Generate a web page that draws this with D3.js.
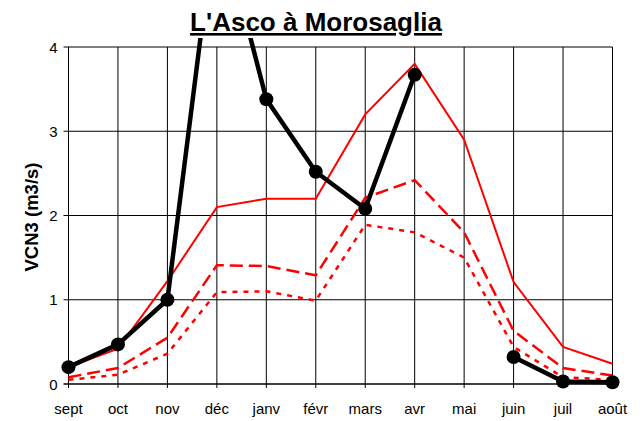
<!DOCTYPE html>
<html>
<head>
<meta charset="utf-8">
<script src="https://cdn.jsdelivr.net/npm/d3@7"></script>
<style>
body { margin: 0; background: #fff; }
text { font-family: "Liberation Sans", Arial, sans-serif; }
</style>
</head>
<body>
<svg width="644" height="421"></svg>
<script>
var months = ['sept','oct','nov','déc','janv','févr','mars','avr','mai','juin','juil','août'];
// observed year (null = no data)
var observed = [0.2, 0.47, 1.0, 5.65, 3.38, 2.52, 2.08, 3.67, null, 0.32, 0.03, 0.02];
var redSolid = [0.2, 0.42, 1.22, 2.1, 2.2, 2.2, 3.2, 3.8, 2.9, 1.21, 0.44, 0.24];
var redDashed = [0.08, 0.19, 0.55, 1.41, 1.4, 1.29, 2.21, 2.42, 1.8, 0.63, 0.19, 0.1];
var redDotted = [0.05, 0.11, 0.36, 1.09, 1.1, 0.99, 1.89, 1.8, 1.5, 0.44, 0.08, 0.05];
var yTicks = [0, 1, 2, 3, 4];

var svg = d3.select('svg');
var pLeft = 68.5, pRight = 612.5, pTop = 47, pBottom = 384;

var x = d3.scalePoint().domain(months).range([pLeft, pRight]);
var y = d3.scaleLinear().domain([0, 4]).range([pBottom, pTop]);

// grid
svg.append('g').selectAll('line').data(months).enter().append('line')
  .attr('x1', d => x(d)).attr('x2', d => x(d))
  .attr('y1', pTop).attr('y2', pBottom + 4)
  .attr('stroke', '#000').attr('stroke-width', 1);
svg.append('g').selectAll('line').data(yTicks).enter().append('line')
  .attr('x1', pLeft - 5).attr('x2', pRight)
  .attr('y1', d => y(d)).attr('y2', d => y(d))
  .attr('stroke', '#000').attr('stroke-width', d => d == 0 ? 1.5 : 1);

// axis labels
svg.append('g').selectAll('text').data(yTicks).enter().append('text')
  .attr('x', pLeft - 11).attr('y', d => y(d) + 5.5)
  .attr('text-anchor', 'end').attr('font-size', 15).text(d => d);
svg.append('g').selectAll('text').data(months).enter().append('text')
  .attr('x', d => x(d)).attr('y', 414)
  .attr('text-anchor', 'middle').attr('font-size', 15).text(d => d);

svg.append('text').attr('transform', 'translate(38,217) rotate(-90)')
  .attr('text-anchor', 'middle').attr('font-size', 18.5).attr('font-weight', 'bold')
  .text('VCN3 (m3/s)');

svg.append('text').attr('x', 316).attr('y', 31)
  .attr('text-anchor', 'middle').attr('font-size', 26).attr('font-weight', 'bold')
  .attr('text-decoration', 'underline').text("L'Asco à Morosaglia");

svg.append('clipPath').attr('id', 'clip').append('rect')
  .attr('x', 0).attr('y', 38).attr('width', 644).attr('height', 360);

var plot = svg.append('g').attr('clip-path', 'url(#clip)');
var line = d3.line().defined(d => d.v != null).x(d => x(d.m)).y(d => y(d.v));
function pts(arr) { return arr.map((v, i) => ({ m: months[i], v: v })); }

plot.append('path').datum(pts(redSolid)).attr('d', line)
  .attr('fill', 'none').attr('stroke', '#ff0000').attr('stroke-width', 2);
plot.append('path').datum(pts(redDashed)).attr('d', line)
  .attr('fill', 'none').attr('stroke', '#ff0000').attr('stroke-width', 2.5)
  .attr('stroke-dasharray', '13,6');
plot.append('path').datum(pts(redDotted)).attr('d', line)
  .attr('fill', 'none').attr('stroke', '#ff0000').attr('stroke-width', 2.5)
  .attr('stroke-dasharray', '5,6');
plot.append('path').datum(pts(observed)).attr('d', line)
  .attr('fill', 'none').attr('stroke', '#000').attr('stroke-width', 4.5)
  .attr('stroke-linejoin', 'round');
plot.selectAll('circle').data(pts(observed).filter(d => d.v != null && d.v <= 4)).enter()
  .append('circle').attr('cx', d => x(d.m)).attr('cy', d => y(d.v)).attr('r', 7)
  .attr('fill', '#000');
</script>
</body>
</html>
